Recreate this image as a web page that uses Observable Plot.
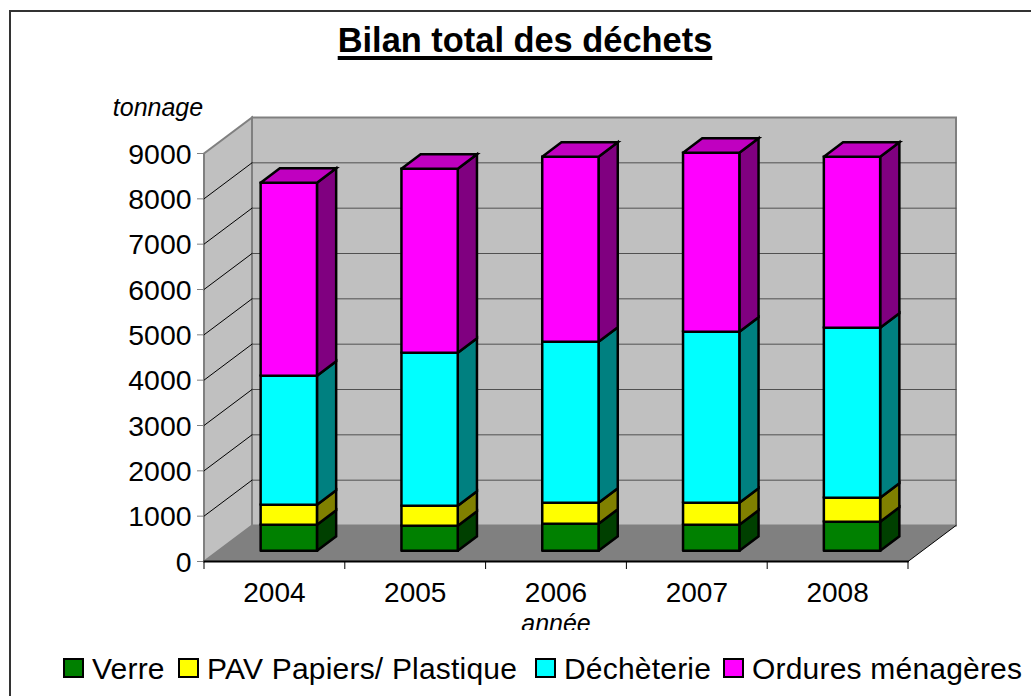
<!DOCTYPE html>
<html lang="fr">
<head>
<meta charset="utf-8">
<title>Bilan total des déchets</title>
<script src="https://cdn.jsdelivr.net/npm/d3@7"></script>
<script src="https://cdn.jsdelivr.net/npm/@observablehq/plot@0.6"></script>
<style>
  html, body { margin: 0; padding: 0; background: #fff; overflow: hidden; }
  body { width: 1031px; height: 696px; position: relative; font-family: "Liberation Sans", Arial, sans-serif; color: #000; }
  #frame { position: absolute; left: 8.5px; top: 10px; width: 1040px; height: 720px; border: 2px solid #333; box-sizing: border-box; }
  #title { position: relative; height: 70px; box-sizing: border-box; padding-top: 20px; text-align: center; padding-left: 19px;
           font-size: 34.4px; line-height: 40px; font-weight: 700; text-decoration: underline; text-decoration-thickness: 4px; text-underline-offset: 4px; }
  #chart { position: relative; height: 560px; }
  #chart svg { display: block; overflow: hidden; }
  #legend { position: relative; height: 66px; display: flex; padding-left: 63px; font-size: 30px; letter-spacing: 0.2px; line-height: 34px; padding-top: 21px; box-sizing: border-box; }
  .item { display: flex; align-items: center; white-space: nowrap; height: 34px; }
  .item > span:last-child { position: relative; top: 1px; }
  .swatch { width: 21px; height: 20px; border: 2px solid #000; box-sizing: border-box; margin-right: 8px; flex: none; }
</style>
</head>
<body>
<div id="frame"></div>
<div id="title">Bilan total des déchets</div>
<div id="chart"></div>
<div id="legend"></div>
<script>
const years = [2004, 2005, 2006, 2007, 2008];
const verre = [573, 552, 596, 573, 640];
const pav = [442, 441, 463, 486, 529];
const decheterie = [2845, 3375, 3551, 3772, 3750];
const ordures = [4258, 4059, 4081, 3949, 3772];
const yTicks = [0, 1000, 2000, 3000, 4000, 5000, 6000, 7000, 8000, 9000];
const seriesNames = ["Verre", "PAV Papiers/ Plastique", "Déchèterie", "Ordures ménagères"];
const seriesValues = [verre, pav, decheterie, ordures];
const frontColors = ["#008000", "#ffff00", "#00ffff", "#ff00ff"];
const sideColors = ["#004000", "#808000", "#008080", "#800080"];
const topColor = "#c000c0";
const legendWidths = [115, 357, 188, 300];

// Oblique depth of the 3D box, in data units of each scale
const depthX = 48 / 140.8;
const depthY = 794;
const barWidth = 0.4;
const barDepthFront = 0.3;
const barDepthBack = 0.7;
const project = (x, v, d) => ({x: x + d * depthX, y: v + d * depthY});

const faces = [];
function face(points, fill) {
  const id = faces.length ? faces[faces.length - 1].id + 1 : 0;
  for (const p of [...points, points[0]]) faces.push({...p, id, fill});
}
years.forEach((year, i) => {
  const x0 = i + 0.5 - barWidth / 2;
  const x1 = i + 0.5 + barWidth / 2;
  let base = 0;
  seriesValues.forEach((values, s) => {
    const top = base + values[i];
    face([project(x1, base, barDepthFront), project(x1, base, barDepthBack), project(x1, top, barDepthBack), project(x1, top, barDepthFront)], sideColors[s]);
    face([project(x0, base, barDepthFront), project(x1, base, barDepthFront), project(x1, top, barDepthFront), project(x0, top, barDepthFront)], frontColors[s]);
    base = top;
  });
  face([project(x0, base, barDepthFront), project(x1, base, barDepthFront), project(x1, base, barDepthBack), project(x0, base, barDepthBack)], topColor);
});

const n = years.length;
const yMax = yTicks[yTicks.length - 1];
const backWall = [project(0, 0, 1), project(n, 0, 1), project(n, yMax, 1), project(0, yMax, 1), project(0, 0, 1)];
const sideWall = [project(0, 0, 0), project(0, 0, 1), project(0, yMax, 1), project(0, yMax, 0), project(0, 0, 0)];
const floor = [project(0, 0, 0), project(n, 0, 0), project(n, 0, 1), project(0, 0, 1), project(0, 0, 0)];
const gridBack = yTicks.slice(1, -1).flatMap((v) => [{...project(0, v, 1), v}, {...project(n, v, 1), v}]);
const gridSide = yTicks.slice(1, -1).flatMap((v) => [{...project(0, v, 0), v}, {...project(0, v, 1), v}]);
const line = (data, o) => Plot.line(data, {x: "x", y: "y", ...o});
const miter = {strokeLinejoin: "miter", strokeMiterlimit: 10};

const plot = Plot.plot({
  width: 1031,
  height: 560,
  marginLeft: 204,
  marginRight: 123,
  marginTop: 83,
  marginBottom: 69,
  style: {fontFamily: "'Liberation Sans', Arial, sans-serif", background: "transparent", color: "#000"},
  x: {domain: [0, n], range: [203.5, 907.5], axis: null},
  y: {domain: [0, yMax], range: [491, 83], axis: null},
  color: {type: "identity"},
  marks: [
    line(backWall, {fill: "#c0c0c0", stroke: "#808080", strokeWidth: 2, ...miter}),
    line(sideWall, {fill: "#c0c0c0", stroke: "#808080", strokeWidth: 2, ...miter}),
    line(gridBack, {z: "v", stroke: "#505050", strokeWidth: 1}),
    line(gridSide, {z: "v", stroke: "#000", strokeWidth: 1}),
    line(floor, {fill: "#808080", stroke: "none"}),
    line([project(n, 0, 0), project(n, 0, 1)], {stroke: "#000", strokeWidth: 1}),
    line([project(0, 0, 0), project(n, 0, 0)], {stroke: "#000", strokeWidth: 2}),
    line(faces, {z: "id", fill: "fill", stroke: "#000", strokeWidth: 2.5, ...miter}),
    Plot.axisY({
      ticks: yTicks,
      anchor: "left",
      label: null,
      tickSize: 7,
      stroke: "#808080",
      strokeOpacity: 1,
      tickFormat: () => ""
    }),
    Plot.axisY({
      ticks: yTicks,
      anchor: "left",
      label: null,
      tickSize: 0,
      tickPadding: 13,
      dy: 1,
      fontSize: 28.4,
      tickFormat: (d) => String(d)
    }),
    Plot.axisX({
      ticks: d3.range(0, n + 1),
      anchor: "bottom",
      label: null,
      tickSize: 8,
      tickFormat: () => "",
      stroke: "#000",
      strokeOpacity: 1
    }),
    Plot.axisX({
      ticks: years.map((_, i) => i + 0.5),
      anchor: "bottom",
      label: null,
      tickSize: 0,
      tickPadding: 21,
      fontSize: 28,
      tickFormat: (d) => String(years[d - 0.5])
    }),
    Plot.text(["tonnage"], {
      x: [0], y: [yMax], text: (d) => d, dx: -46, dy: -46, fontSize: 25, fontStyle: "italic", textAnchor: "middle", fill: "#000"
    }),
    Plot.text(["année"], {
      x: [n / 2], y: [0], text: (d) => d, dy: 62, fontSize: 25, fontStyle: "italic", textAnchor: "middle", fill: "#000"
    })
  ]
});
document.getElementById("chart").appendChild(plot);

const legend = document.getElementById("legend");
seriesNames.forEach((name, i) => {
  const item = document.createElement("div");
  item.className = "item";
  item.style.width = legendWidths[i] + "px";
  const swatch = document.createElement("span");
  swatch.className = "swatch";
  swatch.style.background = frontColors[i];
  const label = document.createElement("span");
  label.textContent = name;
  item.append(swatch, label);
  legend.appendChild(item);
});
</script>
</body>
</html>
